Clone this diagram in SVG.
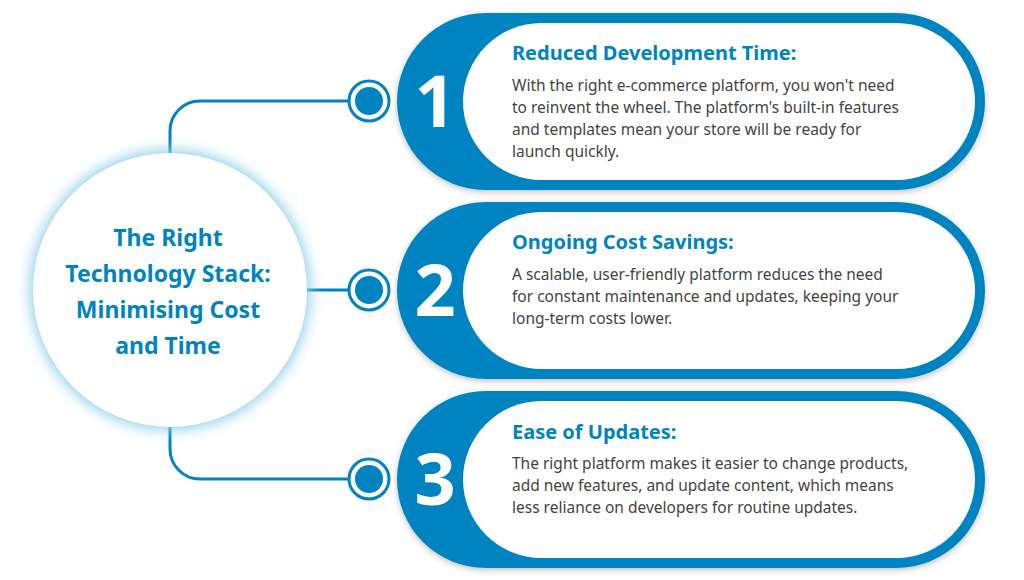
<svg xmlns="http://www.w3.org/2000/svg" width="1024" height="580" viewBox="0 0 1024 580">
<defs>
<filter id="glow" x="-30%" y="-30%" width="160%" height="160%"><feGaussianBlur stdDeviation="7"/></filter>
<filter id="sh" x="-10%" y="-20%" width="120%" height="140%"><feDropShadow dx="0" dy="2" stdDeviation="3" flood-color="#000" flood-opacity="0.25"/></filter>
<style>
.blue{fill:#0084c1}
.white{fill:#fff}
.num{font-family:"Noto Sans",sans-serif;font-weight:bold;font-size:72px;fill:#fff;text-anchor:middle}
.tt{font-family:"Noto Sans",sans-serif;font-weight:bold;font-size:20px;fill:#0084c1}
.bd{font-family:"Noto Sans",sans-serif;font-size:15.5px;fill:#444}
.ct{font-family:"Noto Sans",sans-serif;font-weight:bold;font-size:23px;fill:#0084c1;text-anchor:middle}
.line{fill:none;stroke:#0084c1;stroke-width:3}
</style>
</defs>
<rect width="1024" height="580" fill="#fff"/>
<g id="connectors">
<path class="line" d="M170,153 V131 A30,30 0 0 1 200,101 H348"/>
<path class="line" d="M305,290 H348"/>
<path class="line" d="M170,427 V449 A30,30 0 0 0 200,479 H348"/>
</g>
<g id="center">
<circle cx="170" cy="290" r="140" fill="#8fd0ea" filter="url(#glow)"/>
<circle cx="170" cy="290" r="137" fill="#fff"/>
<text class="ct" x="168" y="246">The Right</text>
<text class="ct" x="168" y="282">Technology Stack:</text>
<text class="ct" x="168" y="318">Minimising Cost</text>
<text class="ct" x="168" y="354">and Time</text>
</g>
<g id="item1">
<circle cx="369" cy="101" r="20" fill="#fff" stroke="#0084c1" stroke-width="3"/>
<circle cx="369" cy="101" r="14" class="blue"/>
<rect x="397" y="13" width="588" height="177" rx="88.5" class="blue" filter="url(#sh)"/>
<rect x="463" y="23" width="512" height="157" rx="78.5" class="white"/>
<text class="num" x="435" y="127">1</text>
<text class="tt" x="512" y="60">Reduced Development Time:</text>
<text class="bd" x="512" y="91">With the right e-commerce platform, you won't need</text>
<text class="bd" x="512" y="113">to reinvent the wheel. The platform's built-in features</text>
<text class="bd" x="512" y="135">and templates mean your store will be ready for</text>
<text class="bd" x="512" y="157">launch quickly.</text>
</g>
<g id="item2">
<circle cx="369" cy="290" r="20" fill="#fff" stroke="#0084c1" stroke-width="3"/>
<circle cx="369" cy="290" r="14" class="blue"/>
<rect x="397" y="202" width="588" height="177" rx="88.5" class="blue" filter="url(#sh)"/>
<rect x="463" y="212" width="512" height="157" rx="78.5" class="white"/>
<text class="num" x="435" y="316">2</text>
<text class="tt" x="512" y="249">Ongoing Cost Savings:</text>
<text class="bd" x="512" y="280">A scalable, user-friendly platform reduces the need</text>
<text class="bd" x="512" y="302">for constant maintenance and updates, keeping your</text>
<text class="bd" x="512" y="324">long-term costs lower.</text>
</g>
<g id="item3">
<circle cx="369" cy="479" r="20" fill="#fff" stroke="#0084c1" stroke-width="3"/>
<circle cx="369" cy="479" r="14" class="blue"/>
<rect x="397" y="391" width="588" height="177" rx="88.5" class="blue" filter="url(#sh)"/>
<rect x="463" y="401" width="512" height="157" rx="78.5" class="white"/>
<text class="num" x="435" y="505">3</text>
<text class="tt" x="512" y="439">Ease of Updates:</text>
<text class="bd" x="512" y="469">The right platform makes it easier to change products,</text>
<text class="bd" x="512" y="491">add new features, and update content, which means</text>
<text class="bd" x="512" y="513">less reliance on developers for routine updates.</text>
</g>
</svg>
